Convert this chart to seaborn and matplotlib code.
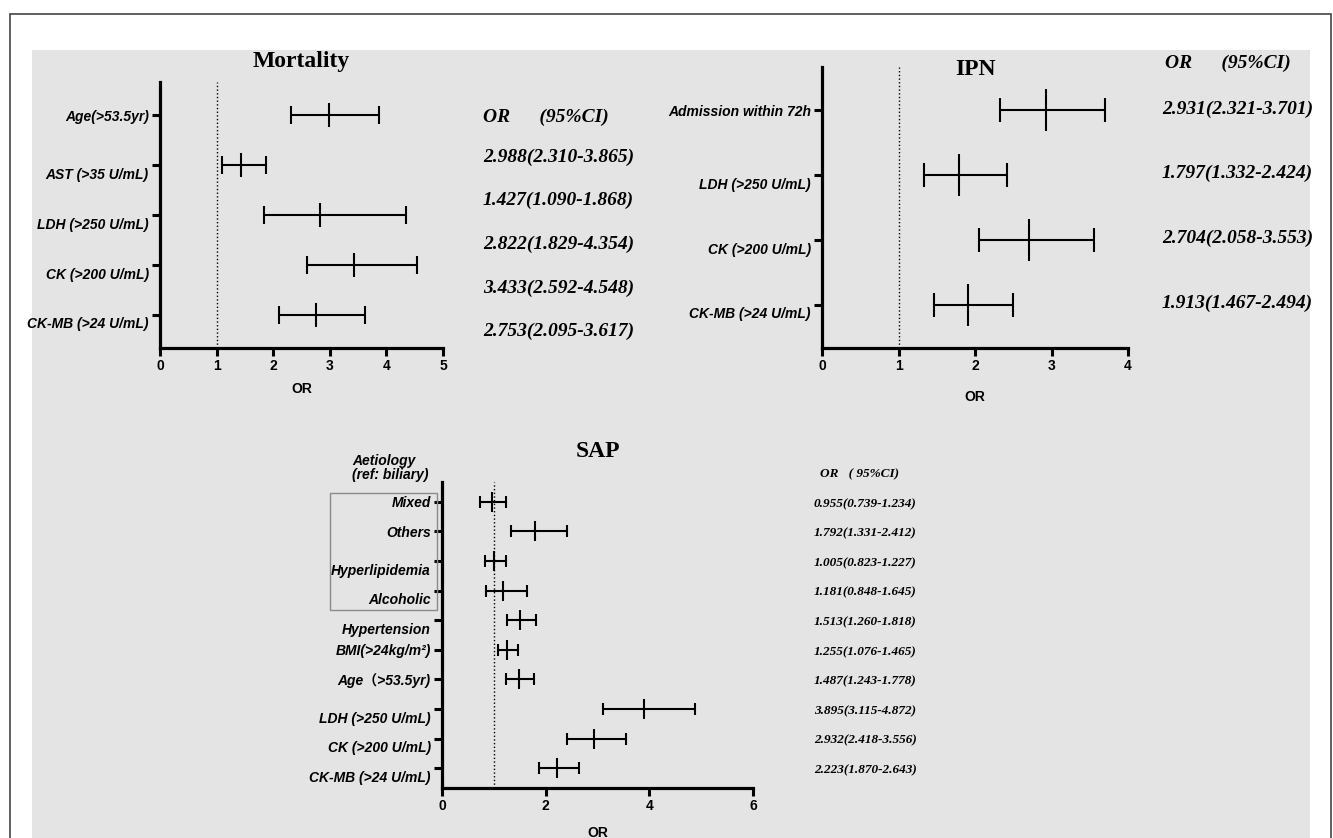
import numpy as np
import pandas as pd
import matplotlib
matplotlib.use("Agg")
import matplotlib.pyplot as plt
import matplotlib.transforms as mtransforms
from matplotlib.patches import Rectangle
import seaborn as sns

# Mortality panel
mort_labels = ["Age(>53.5yr)", "AST (>35 U/mL)", "LDH (>250 U/mL)",
               "CK (>200 U/mL)", "CK-MB (>24 U/mL)"]
mort_or = [2.988, 1.427, 2.822, 3.433, 2.753]
mort_lo = [2.310, 1.090, 1.829, 2.592, 2.095]
mort_hi = [3.865, 1.868, 4.354, 4.548, 3.617]

# IPN panel
ipn_labels = ["Admission within 72h", "LDH (>250 U/mL)", "CK (>200 U/mL)",
              "CK-MB (>24 U/mL)"]
ipn_or = [2.931, 1.797, 2.704, 1.913]
ipn_lo = [2.321, 1.332, 2.058, 1.467]
ipn_hi = [3.701, 2.424, 3.553, 2.494]

# SAP panel
sap_labels = ["Mixed", "Others", "Hyperlipidemia", "Alcoholic", "Hypertension",
              "BMI(>24kg/m²)", "Age（>53.5yr)", "LDH (>250 U/mL)",
              "CK (>200 U/mL)", "CK-MB (>24 U/mL)"]
sap_or = [0.955, 1.792, 1.005, 1.181, 1.513, 1.255, 1.487, 3.895, 2.932, 2.223]
sap_lo = [0.739, 1.331, 0.823, 0.848, 1.260, 1.076, 1.243, 3.115, 2.418, 1.870]
sap_hi = [1.234, 2.412, 1.227, 1.645, 1.818, 1.465, 1.778, 4.872, 3.556, 2.643]

sns.set_theme(style="ticks")
plt.rcParams["font.family"] = ["Liberation Sans", "Noto Sans CJK SC"]
plt.rcParams["text.color"] = "black"
plt.rcParams["axes.labelcolor"] = "black"

W, H = 1333, 838
fig = plt.figure(figsize=(W / 100, H / 100), dpi=100)
serif = dict(family="Liberation Serif", fontweight="bold", fontstyle="italic", color="black")

# outer frame + grey background
fig.patches.append(Rectangle((32 / W, -0.1), 1278 / W, 1.1 - 50 / H, transform=fig.transFigure,
                             facecolor="#e4e4e4", edgecolor="none", zorder=-10))
fig.patches.append(Rectangle((10 / W, -0.1), 1321 / W, 1.1 - 14 / H, transform=fig.transFigure,
                             fill=False, edgecolor="#444444", lw=1.2, zorder=-9))


def px_axes(l, t, r, b):
    ax = fig.add_axes([l / W, 1 - b / H, (r - l) / W, (b - t) / H])
    ax.set_facecolor("none")
    return ax


def forest(ax, labels, odds, lo, hi, xmax, xticks, cap, mark, title, title_y, xlab_y, drop):
    df = pd.DataFrame({"OR": odds, "lo": lo, "hi": hi, "row": np.arange(len(labels))})
    ax.errorbar(df["OR"], df["row"], xerr=[df["OR"] - df["lo"], df["hi"] - df["OR"]],
                fmt="none", ecolor="black", elinewidth=1.5, capsize=cap, capthick=1.5)
    sns.scatterplot(data=df, x="OR", y="row", marker="|", s=mark ** 2, color="black",
                    linewidth=1.5, ax=ax, zorder=3, legend=False)
    ax.axvline(1, color="black", ls=":", lw=1)
    ax.set_xlim(0, xmax)
    ax.set_xticks(xticks)
    ax.set_ylim(len(labels) - 1 + 0.67, -0.67)
    ax.set_yticks(df["row"])
    ax.set_yticklabels(labels, fontsize=10, fontweight="bold", fontstyle="italic")
    for t in ax.get_xticklabels():
        t.set_fontweight("bold")
        t.set_fontsize(10)
    ax.set_xlabel("OR", fontsize=10, fontweight="bold")
    ax.xaxis.set_label_coords(0.5, xlab_y)
    ax.set_ylabel("")
    sns.despine(ax=ax)
    for s in ["left", "bottom"]:
        ax.spines[s].set_linewidth(2.3)
        ax.spines[s].set_color("black")
    ax.tick_params(axis="both", width=2.2, length=6, color="black", labelcolor="black", pad=2)
    # GraphPad-style: some row labels sit a little below their tick
    shift = mtransforms.ScaledTranslation(0, -6 / 72, fig.dpi_scale_trans)
    for tick, d in zip(ax.yaxis.get_major_ticks(), drop):
        if d:
            tick.label1.set_transform(tick.label1.get_transform() + shift)
    ax.text(0.5, title_y, title, transform=ax.transAxes, ha="center", va="baseline",
            fontsize=17, family="Liberation Serif", fontweight="bold")
    return df


def ci_text(df):
    return [f"{o:.3f}({l:.3f}-{h:.3f})" for o, l, h in zip(df["OR"], df["lo"], df["hi"])]


# Mortality
ax1 = px_axes(160, 82, 443, 348)
d1 = forest(ax1, mort_labels, mort_or, mort_lo, mort_hi, 5, range(6), 6.5, 17,
            "Mortality", 1.056, -0.128, [0, 1, 1, 1, 1])
ax1.text(1.141, 0.868, "OR      (95%CI)", transform=ax1.transAxes, va="center", fontsize=14, **serif)
for i, s in enumerate(ci_text(d1)):
    ax1.text(1.141, 0.718 - 0.1643 * i, s, transform=ax1.transAxes, va="center", fontsize=14, **serif)

# IPN
ax2 = px_axes(822, 67, 1128, 348)
d2 = forest(ax2, ipn_labels, ipn_or, ipn_lo, ipn_hi, 4, range(5), 8.3, 30,
            "IPN", 0.972, -0.15, [0, 1, 1, 1])
tr2 = mtransforms.blended_transform_factory(ax2.transAxes, ax2.transData)
ax2.text(1.121, 1.0145, "OR      (95%CI)", transform=ax2.transAxes, va="center", fontsize=14, **serif)
for i, s in enumerate(ci_text(d2)):
    ax2.text(1.111, i - 0.02, s, transform=tr2, va="center", fontsize=14, **serif)

# SAP
ax3 = px_axes(442, 482, 753, 788)
d3 = forest(ax3, sap_labels, sap_or, sap_lo, sap_hi, 6, [0, 2, 4, 6], 4, 13.7,
            "SAP", 1.082, -0.125, [0, 0, 1, 1, 1, 0, 0, 1, 1, 1])
tr3 = mtransforms.blended_transform_factory(ax3.transAxes, ax3.transData)
ax3.text(1.215, -0.92, "OR   ( 95%CI)", transform=tr3, va="center", fontsize=9.5, **serif)
for i, s in enumerate(ci_text(d3)):
    ax3.text(1.196, i + 0.07, s, transform=tr3, va="center", fontsize=9.5, **serif)
ax3.text(-0.29, -1.15, "Aetiology\n(ref: biliary)", transform=tr3, ha="left", va="center",
         fontsize=10, fontweight="bold", fontstyle="italic", linespacing=1.0)
ax3.add_patch(Rectangle((-0.360, -0.3), 0.344, 3.95, transform=tr3, fill=False,
                        edgecolor="#8a8a8a", lw=1.0, clip_on=False))

fig.savefig("out.png", dpi=100)
